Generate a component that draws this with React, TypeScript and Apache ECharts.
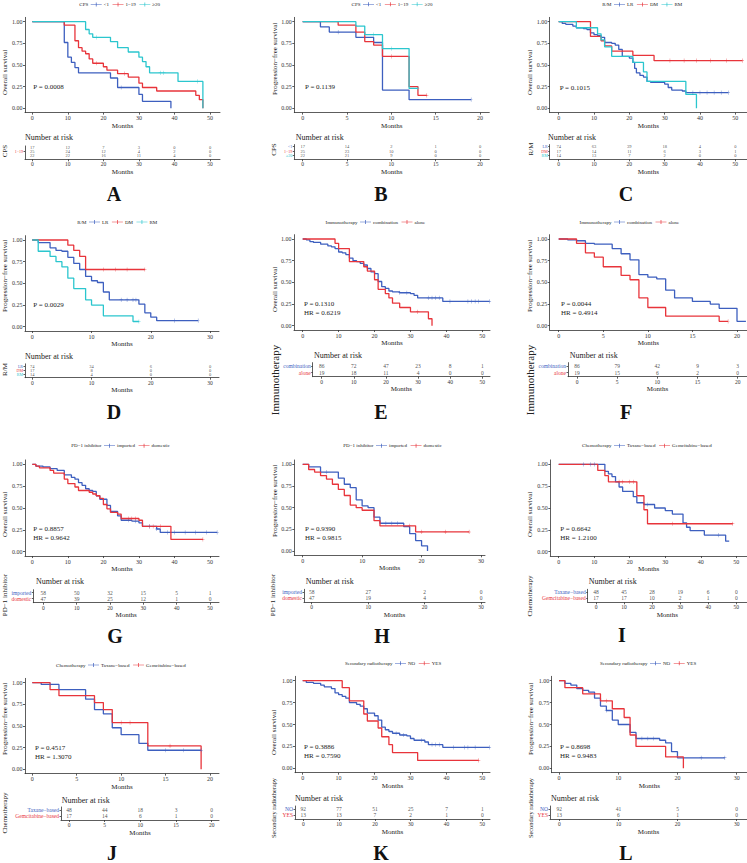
import React, { useEffect, useRef } from "react";
import * as echarts from "echarts";

// ---------- colours / fonts ----------
const BLUE = "#3D5FBF";
const RED = "#E8343B";
const CYAN = "#2BC6CE";
const INK = "#222";
const FONT = "'Liberation Serif', 'DejaVu Serif', serif";

// ---------- tick labels ----------
const TICKS_50 = [0, 10, 20, 30, 40, 50];
const TICKS_30 = [0, 10, 20, 30];
const TICKS_20 = [0, 5, 10, 15, 20];
const Y_TICKS = [0, 0.25, 0.5, 0.75, 1];

// ---------- categories ----------
const CPS_GROUPS = ["<1", "1\u221219", "\u226520"];
const RM_GROUPS = ["LR", "DM", "RM"];
const IMMUNO_GROUPS = ["combination", "alone"];
const PD1_GROUPS = ["imported", "domestic"];
const CHEMO_GROUPS = ["Taxane\u2212based", "Gemcitabine\u2212based"];
const RADIO_GROUPS = ["NO", "YES"];

// ---------- Panel A: OS by CPS ----------
const A_lt1 = [[0, 1], [9, 0.76], [10, 0.59], [11, 0.53], [12, 0.47], [13, 0.41], [22, 0.35], [24, 0.24], [30, 0.16], [31, 0.08], [39, 0]];
const A_mid = [[0, 1], [9, 0.96], [12, 0.78], [13, 0.7], [14, 0.66], [15, 0.63], [16, 0.57], [17, 0.52], [20, 0.48], [21, 0.44], [24, 0.4], [27, 0.36], [30, 0.29], [31, 0.24], [35, 0.2], [46, 0.15], [47, 0.1], [48, 0]];
const A_ge20 = [[0, 1], [15, 0.91], [16, 0.86], [17, 0.82], [22, 0.77], [24, 0.7], [27, 0.65], [30, 0.59], [31, 0.54], [32, 0.48], [33, 0.41], [41, 0.31], [48, 0]];
const A_lt1_cens = [25];
const A_mid_cens = [18, 26];
const A_ge20_cens = [18, 36, 37, 46.5];
const A_risk_lt1 = [17, 12, 7, 3, 0, 0];
const A_risk_mid = [25, 24, 12, 4, 2, 0];
const A_risk_ge20 = [22, 22, 16, 11, 4, 0];

// ---------- Panel B: PFS by CPS ----------
const B_lt1 = [[0, 1], [2, 0.94], [3, 0.88], [6, 0.82], [8, 0.76], [9, 0.21], [12, 0.1], [19, 0.1]];
const B_mid = [[0, 1], [4, 0.96], [6, 0.88], [7, 0.77], [8, 0.73], [9, 0.6], [12, 0.25], [13, 0.15], [14, 0.15]];
const B_ge20 = [[0, 1], [6, 0.95], [7, 0.85], [9, 0.69], [12, 0.23], [13, 0.23]];
const B_lt1_cens = [4, 19];
const B_mid_cens = [10, 14];
const B_ge20_cens = [8, 10, 13];
const B_risk_lt1 = [17, 14, 2, 1, 0];
const B_risk_mid = [25, 23, 10, 0, 0];
const B_risk_ge20 = [22, 21, 9, 0, 0];

// ---------- Panel C: OS by R/M ----------
const C_LR = [[0, 1], [1, 0.98], [2, 0.97], [4, 0.95], [5, 0.93], [7, 0.92], [8, 0.91], [9, 0.87], [10, 0.85], [11, 0.84], [12, 0.82], [13, 0.76], [15, 0.75], [16, 0.73], [17, 0.68], [18, 0.6], [20, 0.58], [21, 0.53], [21.5, 0.46], [22, 0.41], [23, 0.38], [24, 0.36], [25, 0.31], [26, 0.3], [30, 0.28], [31, 0.24], [32, 0.21], [35, 0.2], [36, 0.18], [48, 0.18]];
const C_DM = [[0, 1], [9, 0.83], [12, 0.78], [13, 0.72], [15, 0.66], [21, 0.61], [27, 0.55], [52, 0.55]];
const C_RM = [[0, 1], [5, 0.93], [11, 0.86], [12, 0.79], [13, 0.71], [15, 0.6], [21, 0.53], [24, 0.42], [25, 0.31], [36, 0.16], [39, 0]];
const C_LR_cens = [38, 40, 42, 44, 46, 48];
const C_DM_cens = [31.5, 35.5, 39, 43, 47.5, 52];
const C_RM_cens = [];
const C_risk_LR = [74, 63, 39, 18, 4, 0];
const C_risk_DM = [17, 14, 11, 6, 3, 1];
const C_risk_RM = [14, 13, 7, 2, 0, 0];

// ---------- Panel D: PFS by R/M ----------
const D_LR = [[0, 1], [1, 0.97], [3, 0.91], [4, 0.88], [5, 0.87], [6, 0.8], [7, 0.73], [8, 0.66], [9, 0.58], [10, 0.53], [11, 0.51], [12, 0.4], [13, 0.31], [18, 0.26], [19, 0.16], [20, 0.11], [21, 0.07], [28, 0.07]];
const D_DM = [[0, 1], [6, 0.94], [7, 0.88], [8, 0.81], [9, 0.66], [19, 0.66]];
const D_RM = [[0, 1], [1, 0.87], [3, 0.81], [4, 0.75], [5, 0.69], [6, 0.56], [7, 0.44], [9, 0.31], [10, 0.25], [12, 0.125], [17, 0.06], [18, 0.06]];
const D_LR_cens = [15, 16, 17, 17.5, 24, 28];
const D_DM_cens = [12, 14, 16, 19];
const D_RM_cens = [18];
const D_risk_LR = [74, 34, 6, 0];
const D_risk_DM = [17, 8, 0, 0];
const D_risk_RM = [14, 4, 0, 0];

// ---------- Panel E: OS by immunotherapy ----------
const E_comb = [[0, 1], [1, 0.99], [2, 0.97], [3, 0.96], [5, 0.94], [7, 0.92], [8, 0.91], [9, 0.89], [10, 0.85], [11, 0.84], [12, 0.82], [13, 0.78], [14, 0.75], [15, 0.74], [16, 0.72], [17, 0.7], [18, 0.66], [19, 0.62], [20, 0.6], [21, 0.51], [22, 0.45], [23, 0.43], [24, 0.4], [25, 0.39], [27, 0.38], [30, 0.37], [31, 0.35], [32, 0.32], [39, 0.28], [52, 0.28]];
const E_alone = [[0, 1], [9, 0.95], [10, 0.89], [13, 0.74], [17, 0.68], [18, 0.63], [20, 0.53], [21, 0.42], [23, 0.37], [24, 0.32], [25, 0.26], [27, 0.21], [30, 0.16], [35, 0.08], [36, 0]];
const E_comb_cens = [27, 29, 35, 36, 37, 38, 41, 46, 47, 48, 49, 52];
const E_alone_cens = [32];
const E_risk_comb = [86, 72, 47, 23, 8, 1];
const E_risk_alone = [19, 18, 11, 4, 0, 0];

// ---------- Panel F: PFS by immunotherapy ----------
const F_comb = [[0, 1], [1, 0.99], [2, 0.98], [3, 0.95], [4, 0.94], [6, 0.89], [7, 0.83], [8, 0.76], [9, 0.59], [10, 0.56], [11, 0.54], [12, 0.41], [13, 0.32], [15, 0.28], [17, 0.25], [18, 0.2], [20, 0.05], [21, 0.05]];
const F_alone = [[0, 1], [2, 0.95], [3, 0.84], [4, 0.79], [5, 0.68], [7, 0.58], [8, 0.53], [9, 0.32], [10, 0.21], [12, 0.11], [18, 0.05], [19, 0.05]];
const F_comb_cens = [];
const F_alone_cens = [19];
const F_risk_comb = [86, 79, 42, 9, 3];
const F_risk_alone = [19, 15, 6, 2, 0];

// ---------- Panel G: OS by PD-1 inhibitor ----------
const G_imp = [[0, 1], [1, 0.98], [3, 0.97], [5, 0.95], [7, 0.93], [9, 0.88], [11, 0.85], [12, 0.83], [13, 0.79], [14, 0.76], [15, 0.72], [16, 0.7], [17, 0.69], [18, 0.64], [19, 0.6], [21, 0.53], [22, 0.46], [24, 0.41], [25, 0.36], [28, 0.35], [30, 0.33], [31, 0.29], [35, 0.26], [36, 0.22], [52, 0.22]];
const G_dom = [[0, 1], [1, 0.98], [2, 0.96], [5, 0.93], [6, 0.9], [9, 0.83], [10, 0.78], [12, 0.74], [13, 0.7], [16, 0.68], [17, 0.66], [18, 0.64], [19, 0.61], [20, 0.54], [21, 0.49], [22, 0.45], [24, 0.43], [25, 0.38], [30, 0.36], [31, 0.29], [39, 0.14], [48, 0.14]];
const G_imp_cens = [27, 29, 33, 35, 38, 40, 43, 46, 49, 52];
const G_dom_cens = [27, 28, 29, 33, 34, 36, 48];
const G_risk_imp = [58, 50, 32, 15, 5, 1];
const G_risk_dom = [47, 39, 25, 12, 1, 0];

// ---------- Panel H: PFS by PD-1 inhibitor ----------
const H_imp = [[0, 1], [1, 0.97], [3, 0.91], [6, 0.84], [7, 0.77], [8, 0.73], [9, 0.59], [10, 0.52], [11, 0.5], [12, 0.39], [13, 0.32], [17, 0.28], [18, 0.2], [19, 0.12], [20, 0.06], [21, 0]];
const H_dom = [[0, 1], [1, 0.94], [2, 0.91], [3, 0.87], [4, 0.83], [5, 0.77], [6, 0.71], [7, 0.64], [8, 0.53], [9, 0.5], [10, 0.47], [12, 0.35], [13, 0.29], [19, 0.22], [28, 0.22]];
const H_imp_cens = [4, 14, 15, 16];
const H_dom_cens = [18, 20, 24, 28];
const H_risk_imp = [58, 27, 2, 0];
const H_risk_dom = [47, 19, 4, 0];

// ---------- Panel I: OS by chemotherapy ----------
const I_tax = [[0, 1], [13, 0.92], [14, 0.89], [15, 0.86], [16, 0.8], [17, 0.74], [18, 0.69], [21, 0.63], [22, 0.56], [24, 0.54], [27, 0.5], [30, 0.47], [32, 0.43], [35, 0.33], [36, 0.28], [37, 0.24], [41, 0.19], [47, 0.12], [48, 0.12]];
const I_gem = [[0, 1], [11, 0.93], [13, 0.87], [14, 0.8], [22, 0.64], [24, 0.48], [25, 0.32], [49, 0.32]];
const I_tax_cens = [7, 9, 10, 25, 45];
const I_gem_cens = [17, 18, 20, 21, 32, 49];
const I_risk_tax = [48, 45, 28, 19, 6, 0];
const I_risk_gem = [17, 17, 10, 2, 1, 0];

// ---------- Panel J: PFS by chemotherapy ----------
const J_tax = [[0, 1], [1, 0.98], [3, 0.92], [6, 0.81], [7, 0.69], [8, 0.64], [9, 0.48], [10, 0.4], [12, 0.3], [13, 0.22], [19, 0.22]];
const J_gem = [[0, 1], [2, 0.92], [3, 0.85], [7, 0.77], [8, 0.69], [9, 0.54], [13, 0.27], [19, 0]];
const J_tax_cens = [2, 15, 17, 19];
const J_gem_cens = [10, 11, 15.5];
const J_risk_tax = [48, 44, 18, 3, 0];
const J_risk_gem = [17, 14, 6, 1, 0];

// ---------- Panel K: OS by secondary radiotherapy ----------
const K_no = [[0, 1], [1, 0.98], [3, 0.97], [5, 0.95], [6, 0.93], [8, 0.91], [9, 0.86], [10, 0.84], [11, 0.82], [12, 0.8], [13, 0.75], [15, 0.73], [16, 0.71], [17, 0.68], [18, 0.63], [20, 0.6], [21, 0.55], [22, 0.47], [23, 0.44], [24, 0.42], [25, 0.4], [27, 0.38], [29, 0.37], [30, 0.34], [31, 0.32], [34, 0.3], [35, 0.27], [39, 0.24], [52, 0.24]];
const K_yes = [[0, 1], [11, 0.92], [13, 0.77], [17, 0.62], [18, 0.54], [21, 0.46], [22, 0.36], [24, 0.27], [25, 0.18], [32, 0.09], [49, 0.09]];
const K_no_cens = [26, 28, 33, 36, 37, 38, 42, 45, 46, 48, 52];
const K_yes_cens = [49];
const K_risk_no = [92, 77, 51, 25, 7, 1];
const K_risk_yes = [13, 13, 7, 2, 1, 0];

// ---------- Panel L: PFS by secondary radiotherapy ----------
const L_no = [[0, 1], [1, 0.97], [2, 0.95], [3, 0.91], [4, 0.89], [5, 0.87], [6, 0.8], [7, 0.71], [8, 0.66], [9, 0.55], [10, 0.5], [12, 0.41], [13, 0.34], [17, 0.32], [18, 0.29], [19, 0.19], [20, 0.12], [28, 0.12]];
const L_yes = [[0, 1], [1, 0.92], [4, 0.85], [7, 0.77], [9, 0.68], [11, 0.58], [12, 0.38], [13, 0.25], [18, 0.13], [21, 0]];
const L_no_cens = [8, 14, 15, 16, 24, 28];
const L_yes_cens = [8];
const L_risk_no = [92, 41, 5, 0];
const L_risk_yes = [13, 6, 1, 0];

// ---------- statistics text ----------
const STATS = {
  A: ["P = 0.0008"], B: ["P = 0.1139"], C: ["P = 0.1015"], D: ["P = 0.0029"],
  E: ["P = 0.1310", "HR = 0.6219"], F: ["P = 0.0044", "HR = 0.4914"],
  G: ["P = 0.8857", "HR = 0.9642"], H: ["P = 0.9390", "HR = 0.9815"],
  I: ["P = 0.6642", "HR = 1.2100"], J: ["P = 0.4517", "HR = 1.3070"],
  K: ["P = 0.3886", "HR = 0.7590"], L: ["P = 0.8698", "HR = 0.9483"],
};

const OS = "Overall survival";
const PFS = "Progression\u2212free survival";

// layout (pixels)
const LAYOUT = {
  A: { pl: 25, pr: 220, x0: 32.3, xT: 210, y1: 21.7, y0: 108.3, rl: 25, rr: 220, rx0: 32.3, rxT: 210, r0: 147.8, rsp: 3.7, ry: 159.3, ytX: 5, ytB: 95, rtX: 4.5, rtY: 151, rtF: 7, narX: 25, narY: 137.7, pX: 33.3, pY: 87.3, letX: 114, letY: 194, letB: false, legX: 90.7, legY: 4.5 },
  B: { pl: 294.3, pr: 489.3, x0: 302.7, xT: 480, y1: 21.7, y0: 108.3, rl: 294.3, rr: 489.3, rx0: 302.7, rxT: 480, r0: 146.7, rsp: 4.3, ry: 159.3, ytX: 275, ytB: 95, rtX: 274, rtY: 149.5, rtF: 7, narX: 295.7, narY: 137.3, pX: 305, pY: 87.3, letX: 381, letY: 194, letB: false, legX: 363, legY: 4.3 },
  C: { pl: 549.7, pr: 747, x0: 558.7, xT: 735.3, y1: 21.7, y0: 108.3, rl: 549.7, rr: 747, rx0: 558.7, rxT: 735.3, r0: 146.7, rsp: 4.3, ry: 159.3, ytX: 530, ytB: 95, rtX: 531, rtY: 149, rtF: 7, narX: 548, narY: 137.3, pX: 559.7, pY: 88.3, letX: 626, letY: 194, letB: false, legX: 614, legY: 4.5 },
  D: { pl: 25, pr: 219, x0: 32.3, xT: 210, y1: 240, y0: 326.7, rl: 25, rr: 219, rx0: 32.3, rxT: 210, r0: 366, rsp: 4.3, ry: 377.7, ytX: 5, ytB: 312, rtX: 5, rtY: 369.5, rtF: 7, narX: 25, narY: 356.7, pX: 33.3, pY: 305, letX: 114, letY: 412, letB: false, legX: 89, legY: 222 },
  E: { pl: 294, pr: 490, x0: 302.7, xT: 482.3, y1: 239, y0: 325.7, rl: 312.7, rr: 490, rx0: 321.7, rxT: 482.3, r0: 366, rsp: 6.7, ry: 376.7, ytX: 275, ytB: 312, rtX: 275, rtY: 380, rtF: 11, narX: 314, narY: 355.7, pX: 304, pY: 304, letX: 381, letY: 412, letB: false, legX: 360, legY: 222 },
  F: { pl: 549.7, pr: 747, x0: 558.7, xT: 737, y1: 239, y0: 325.7, rl: 568, rr: 747, rx0: 577, rxT: 737.7, r0: 366, rsp: 6.7, ry: 376.7, ytX: 530, ytB: 312, rtX: 530, rtY: 380, rtF: 11, narX: 569.7, narY: 355.7, pX: 561, pY: 304, letX: 626, letY: 412, letB: false, legX: 614, legY: 222 },
  G: { pl: 25, pr: 219, x0: 32.3, xT: 210, y1: 464.3, y0: 551.7, rl: 33.3, rr: 219, rx0: 43.3, rxT: 210, r0: 592.7, rsp: 6, ry: 602.7, ytX: 5, ytB: 537, rtX: 5, rtY: 595, rtF: 7, narX: 36, narY: 581.7, pX: 33.3, pY: 529.3, letX: 115, letY: 636, letB: false, legX: 104, legY: 445.7 },
  H: { pl: 294.3, pr: 485, x0: 302.7, xT: 481, y1: 464.3, y0: 551, rl: 304, rr: 485, rx0: 311.7, rxT: 481, r0: 592.3, rsp: 6, ry: 602.3, ytX: 275, ytB: 537, rtX: 273, rtY: 595, rtF: 7, narX: 305.7, narY: 581, pX: 305, pY: 529.3, letX: 382, letY: 636, letB: false, legX: 376, legY: 445.7 },
  I: { pl: 550.3, pr: 747, x0: 558.7, xT: 736.3, y1: 464.3, y0: 551.7, rl: 587.7, rr: 747, rx0: 596, rxT: 736.3, r0: 592.3, rsp: 6, ry: 602.3, ytX: 530, ytB: 537, rtX: 530, rtY: 596, rtF: 7, narX: 588.7, narY: 581, pX: 560.3, pY: 529.3, letX: 622, letY: 635, letB: false, legX: 614, legY: 445.7 },
  J: { pl: 25, pr: 219, x0: 32.3, xT: 210, y1: 682.7, y0: 769.3, rl: 61, rr: 219, rx0: 69, rxT: 211.7, r0: 810, rsp: 6, ry: 820, ytX: 5, ytB: 755, rtX: 5, rtY: 813, rtF: 7, narX: 61.7, narY: 800, pX: 35, pY: 748.3, letX: 112, letY: 862.5, letB: true, legX: 88, legY: 665 },
  K: { pl: 295, pr: 490, x0: 302.7, xT: 482.3, y1: 680.7, y0: 768.3, rl: 295, rr: 490, rx0: 303.3, rxT: 482.3, r0: 809, rsp: 6, ry: 819, ytX: 274, ytB: 755, rtX: 273, rtY: 808, rtF: 6.3, narX: 295, narY: 798.3, pX: 304, pY: 746.7, letX: 381, letY: 862.5, letB: true, legX: 395, legY: 663.3 },
  L: { pl: 551.7, pr: 747, x0: 559, xT: 736.7, y1: 680.7, y0: 768.3, rl: 550, rr: 747, rx0: 559.3, rxT: 736.7, r0: 809, rsp: 6, ry: 819, ytX: 531, ytB: 755, rtX: 530, rtY: 808, rtF: 6.3, narX: 551, narY: 798.3, pX: 560, pY: 746.7, letX: 626, letY: 862.5, letB: true, legX: 650, legY: 663.3 },
};

const C3 = [BLUE, RED, CYAN];
const C2 = [BLUE, RED];

const PANELS = [
  { key: "A", yTitle: OS, grpTitle: "CPS", groups: CPS_GROUPS, ticks: TICKS_50, curves: [A_lt1, A_mid, A_ge20], cens: [A_lt1_cens, A_mid_cens, A_ge20_cens], risk: [A_risk_lt1, A_risk_mid, A_risk_ge20], colors: C3 },
  { key: "B", yTitle: PFS, grpTitle: "CPS", groups: CPS_GROUPS, ticks: TICKS_20, curves: [B_lt1, B_mid, B_ge20], cens: [B_lt1_cens, B_mid_cens, B_ge20_cens], risk: [B_risk_lt1, B_risk_mid, B_risk_ge20], colors: C3 },
  { key: "C", yTitle: OS, grpTitle: "R/M", groups: RM_GROUPS, ticks: TICKS_50, curves: [C_LR, C_DM, C_RM], cens: [C_LR_cens, C_DM_cens, C_RM_cens], risk: [C_risk_LR, C_risk_DM, C_risk_RM], colors: C3 },
  { key: "D", yTitle: PFS, grpTitle: "R/M", groups: RM_GROUPS, ticks: TICKS_30, curves: [D_LR, D_DM, D_RM], cens: [D_LR_cens, D_DM_cens, D_RM_cens], risk: [D_risk_LR, D_risk_DM, D_risk_RM], colors: C3 },
  { key: "E", yTitle: OS, grpTitle: "Immunotherapy", groups: IMMUNO_GROUPS, ticks: TICKS_50, curves: [E_comb, E_alone], cens: [E_comb_cens, E_alone_cens], risk: [E_risk_comb, E_risk_alone], colors: C2 },
  { key: "F", yTitle: PFS, grpTitle: "Immunotherapy", groups: IMMUNO_GROUPS, ticks: TICKS_20, curves: [F_comb, F_alone], cens: [F_comb_cens, F_alone_cens], risk: [F_risk_comb, F_risk_alone], colors: C2 },
  { key: "G", yTitle: OS, grpTitle: "PD\u22121 inhibitor", groups: PD1_GROUPS, ticks: TICKS_50, curves: [G_imp, G_dom], cens: [G_imp_cens, G_dom_cens], risk: [G_risk_imp, G_risk_dom], colors: C2 },
  { key: "H", yTitle: PFS, grpTitle: "PD\u22121 inhibitor", groups: PD1_GROUPS, ticks: TICKS_30, curves: [H_imp, H_dom], cens: [H_imp_cens, H_dom_cens], risk: [H_risk_imp, H_risk_dom], colors: C2 },
  { key: "I", yTitle: OS, grpTitle: "Chemotherapy", groups: CHEMO_GROUPS, ticks: TICKS_50, curves: [I_tax, I_gem], cens: [I_tax_cens, I_gem_cens], risk: [I_risk_tax, I_risk_gem], colors: C2 },
  { key: "J", yTitle: PFS, grpTitle: "Chemotherapy", groups: CHEMO_GROUPS, ticks: TICKS_20, curves: [J_tax, J_gem], cens: [J_tax_cens, J_gem_cens], risk: [J_risk_tax, J_risk_gem], colors: C2 },
  { key: "K", yTitle: OS, grpTitle: "Secondary radiotherapy", groups: RADIO_GROUPS, ticks: TICKS_50, curves: [K_no, K_yes], cens: [K_no_cens, K_yes_cens], risk: [K_risk_no, K_risk_yes], colors: C2 },
  { key: "L", yTitle: PFS, grpTitle: "Secondary radiotherapy", groups: RADIO_GROUPS, ticks: TICKS_30, curves: [L_no, L_yes], cens: [L_no_cens, L_yes_cens], risk: [L_risk_no, L_risk_yes], colors: C2 },
];

function survAt(curve: number[][], t: number) {
  let s = 1;
  for (const [ti, si] of curve) {
    if (ti <= t) s = si;
  }
  return s;
}

const PLUS = "path://M-1,-0.1H1V0.1H-1Z M-0.13,-1H0.13V1H-0.13Z";
const LEG_ICON = "path://M0,4.4H22V5.6H0Z M10.3,1H11.7V9H10.3Z";

function buildOption() {
  const grid: any[] = [];
  const xAxis: any[] = [];
  const yAxis: any[] = [];
  const series: any[] = [];
  const legend: any[] = [];
  const graphic: any[] = [];
  const axisLine = { show: true, onZero: false, lineStyle: { color: "#333", width: 0.8 } };
  const tickStyle = { color: "#333", width: 0.8 };

  PANELS.forEach((p, i) => {
    const g = (LAYOUT as any)[p.key];
    const three = p.groups.length === 3;
    const last = p.ticks[p.ticks.length - 1];
    // ---- survival plot ----
    const h = g.y0 - g.y1;
    const top = g.y1 - 0.05 * h;
    const bottom = g.y0 + 0.05 * h;
    const ppm = (g.xT - g.x0) / last;
    grid.push({ left: g.pl, top, width: g.pr - g.pl, height: bottom - top, outerBoundsMode: "none", containLabel: false });
    xAxis.push({
      gridIndex: 2 * i, type: "value", min: (g.pl - g.x0) / ppm, max: (g.pr - g.x0) / ppm,
      axisLine, splitLine: { show: false },
      axisTick: { show: true, length: 2, customValues: p.ticks, lineStyle: tickStyle },
      axisLabel: { customValues: p.ticks, fontSize: 6, margin: 2.5, color: "#333", fontFamily: FONT },
      name: "Months", nameLocation: "middle", nameGap: 8.5,
      nameTextStyle: { fontSize: 7, color: INK, fontFamily: FONT },
    });
    yAxis.push({
      gridIndex: 2 * i, type: "value", min: -0.05, max: 1.05,
      axisLine, splitLine: { show: false },
      axisTick: { show: true, length: 2, customValues: Y_TICKS, lineStyle: tickStyle },
      axisLabel: { customValues: Y_TICKS, fontSize: 6, margin: 2.5, color: "#333", fontFamily: FONT, formatter: (v: number) => v.toFixed(2) },
    });
    p.curves.forEach((c, k) => {
      const name = p.groups[k] + "#" + p.key;
      series.push({
        type: "line", name, xAxisIndex: 2 * i, yAxisIndex: 2 * i, step: "end", data: c,
        symbol: "none", showSymbol: false, silent: true,
        lineStyle: { color: p.colors[k], width: 1.3 }, itemStyle: { color: p.colors[k] }, z: 3,
      });
      series.push({
        type: "scatter", name: name + "~c", xAxisIndex: 2 * i, yAxisIndex: 2 * i,
        data: p.cens[k].map((t) => [t, survAt(c, t)]),
        symbol: PLUS, symbolSize: [3.2, 4.2], silent: true,
        itemStyle: { color: p.colors[k] }, z: 4,
      });
    });
    legend.push({
      data: p.groups.map((gname) => ({ name: gname + "#" + p.key })),
      formatter: (n: string) => n.split("#")[0],
      left: g.legX, top: g.legY - 2.5, orient: "horizontal", padding: 0,
      itemWidth: 11, itemHeight: 5, itemGap: 3.5, icon: LEG_ICON,
      textStyle: { fontSize: 5, color: INK, fontFamily: FONT, padding: [0, 0, 0, -3] },
      selectedMode: false,
    });
    graphic.push({
      type: "text", x: g.legX - 2.5, y: g.legY,
      style: { text: p.grpTitle, fontSize: 5, fill: INK, fontFamily: FONT, align: "right", verticalAlign: "middle" },
    });
    // y title
    graphic.push({
      type: "text", x: g.ytX, y: g.ytB, rotation: Math.PI / 2,
      style: { text: p.yTitle, fontSize: 7, fill: INK, fontFamily: FONT, align: "left", verticalAlign: "middle" },
    });
    // stats
    STATS[p.key as keyof typeof STATS].forEach((line, li) => {
      graphic.push({
        type: "text", x: g.pX, y: g.pY + li * 9,
        style: { text: line, fontSize: 7, fill: INK, fontFamily: FONT, align: "left", verticalAlign: "middle" },
      });
    });
    // ---- risk table ----
    const rppm = (g.rxT - g.rx0) / last;
    const rtop = g.r0 - 0.5 * g.rsp;
    const idx = p.groups.map((_, k) => k);
    grid.push({ left: g.rl, top: rtop, width: g.rr - g.rl, height: g.ry - rtop, outerBoundsMode: "none", containLabel: false });
    xAxis.push({
      gridIndex: 2 * i + 1, type: "value", min: (g.rl - g.rx0) / rppm, max: (g.rr - g.rx0) / rppm,
      axisLine, splitLine: { show: false },
      axisTick: { show: true, length: 2, customValues: p.ticks, lineStyle: tickStyle },
      axisLabel: { customValues: p.ticks, fontSize: 5.5, margin: 2, color: "#333", fontFamily: FONT },
      name: "Months", nameLocation: "middle", nameGap: 9,
      nameTextStyle: { fontSize: 7, color: INK, fontFamily: FONT },
    });
    const rich: any = {};
    p.groups.forEach((_, k) => {
      rich["c" + k] = { color: p.colors[k], fontSize: three ? 4 : 5.5, fontFamily: FONT };
    });
    yAxis.push({
      gridIndex: 2 * i + 1, type: "value", inverse: true, min: -0.5, max: (g.ry - g.r0) / g.rsp,
      axisLine, splitLine: { show: false },
      axisTick: { show: true, length: 1.5, customValues: idx, lineStyle: tickStyle },
      axisLabel: { customValues: idx, margin: 2, formatter: (v: number) => `{c${v}|${p.groups[v]}}`, rich },
    });
    p.risk.forEach((arr, k) => {
      series.push({
        type: "scatter", name: p.groups[k] + "#" + p.key + "~r", xAxisIndex: 2 * i + 1, yAxisIndex: 2 * i + 1,
        data: arr.map((n, j) => [p.ticks[j], k, n]), symbolSize: 1, silent: true,
        itemStyle: { color: "rgba(0,0,0,0)" },
        label: { show: true, position: "inside", formatter: (q: any) => String(q.value[2]), fontSize: three ? 4.5 : 5.5, color: INK, fontFamily: FONT },
      });
    });
    graphic.push({
      type: "text", x: g.narX, y: g.narY,
      style: { text: "Number at risk", fontSize: 8, fill: INK, fontFamily: FONT, align: "left", verticalAlign: "middle" },
    });
    graphic.push({
      type: "text", x: g.rtX, y: g.rtY, rotation: Math.PI / 2,
      style: { text: p.grpTitle, fontSize: g.rtF, fill: INK, fontFamily: FONT, align: "center", verticalAlign: "middle" },
    });
    graphic.push({
      type: "text", x: g.letX, y: g.letY,
      style: { text: p.key, fontSize: 20, fontWeight: "bold", fill: "#111", fontFamily: FONT, align: "center", verticalAlign: g.letB ? "bottom" : "middle" },
    });
  });

  return { animation: false, backgroundColor: "#fff", grid, xAxis, yAxis, series, legend, graphic };
}

export default function App() {
  const ref = useRef<HTMLDivElement>(null);
  useEffect(() => {
    if (!ref.current) return;
    const chart = echarts.init(ref.current, null, { renderer: "svg" });
    chart.setOption(buildOption() as any);
    return () => chart.dispose();
  }, []);
  return <div ref={ref} style={{ position: "fixed", left: 0, top: 0, width: 747, height: 863, background: "#fff" }} />;
}
